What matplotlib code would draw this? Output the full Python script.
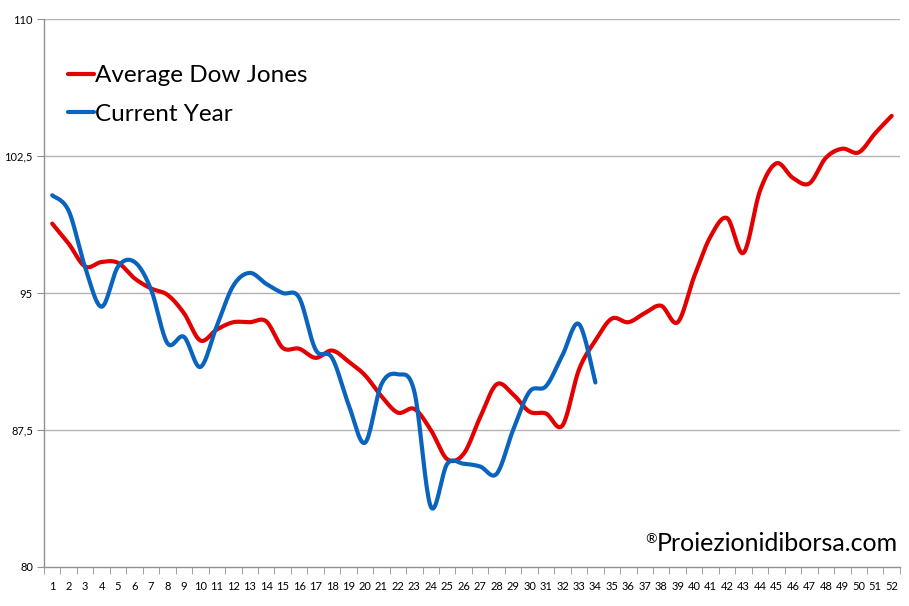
import numpy as np
import matplotlib
matplotlib.use('Agg')
import matplotlib.pyplot as plt

weeks = list(range(1, 53))

# average Dow Jones, weeks 1-52
avg_dow = [98.8, 97.7, 96.45, 96.7, 96.65, 95.8, 95.25, 94.9, 93.9, 92.4,
           93.0, 93.4, 93.4, 93.45, 92.0, 91.95, 91.45, 91.85, 91.25, 90.5,
           89.35, 88.45, 88.65, 87.5, 85.9, 86.2, 88.2, 90.0, 89.45, 88.5,
           88.4, 87.75, 90.8, 92.4, 93.6, 93.4, 93.9, 94.3, 93.4, 95.9,
           98.1, 99.1, 97.2, 100.6, 102.1, 101.3, 101.0, 102.4, 102.9, 102.7,
           103.75, 104.7]

# current year, weeks 1-34
cur_year = [100.35, 99.5, 96.4, 94.25, 96.45, 96.7, 95.2, 92.25, 92.6, 90.95,
            93.2, 95.4, 96.1, 95.5, 95.0, 94.75, 91.9, 91.45, 88.9, 86.8,
            90.0, 90.55, 89.6, 83.3, 85.65, 85.65, 85.5, 85.1, 87.5, 89.6,
            89.9, 91.6, 93.3, 90.1]

y_ticks = [80, 87.5, 95, 102.5, 110]
y_labels = ["80", "87,5", "95", "102,5", "110"]


def smooth(xs, ys, n=20):
    # excel-like smoothed line (bezier through the points)
    xs = np.asarray(xs, float)
    ys = np.asarray(ys, float)
    px = np.concatenate([[xs[0]], xs, [xs[-1]]])
    py = np.concatenate([[ys[0]], ys, [ys[-1]]])
    outx, outy = [], []
    t = np.linspace(0, 1, n, endpoint=False)
    for i in range(1, len(px) - 2):
        p0 = np.array([px[i], py[i]])
        p3 = np.array([px[i + 1], py[i + 1]])
        c1 = p0 + (np.array([px[i + 1], py[i + 1]]) - np.array([px[i - 1], py[i - 1]])) / 6
        c2 = p3 - (np.array([px[i + 2], py[i + 2]]) - np.array([px[i], py[i]])) / 6
        b = ((1 - t) ** 3)[:, None] * p0 + (3 * (1 - t) ** 2 * t)[:, None] * c1 \
            + (3 * (1 - t) * t ** 2)[:, None] * c2 + (t ** 3)[:, None] * p3
        outx.extend(b[:, 0])
        outy.extend(b[:, 1])
    outx.append(xs[-1])
    outy.append(ys[-1])
    return outx, outy


plt.rcParams['font.family'] = ['Lato', 'DejaVu Sans']

fig = plt.figure(figsize=(9.09, 6.06), dpi=100)
ax = fig.add_axes([0.0484, 0.0644, 0.9416, 0.9042])

red = '#e30000'
blue = '#0a64be'

sx, sy = smooth(weeks, avg_dow)
ax.plot(sx, sy, color=red, lw=3.0, solid_capstyle='round', label="Average Dow Jones", zorder=3)
sx, sy = smooth(weeks[:len(cur_year)], cur_year)
ax.plot(sx, sy, color=blue, lw=3.0, solid_capstyle='round', label="Current Year", zorder=4)

ax.set_xlim(0.5, 52.5)
ax.set_ylim(80, 110)
ax.set_yticks(y_ticks)
ax.set_yticklabels(y_labels)
ax.set_xticks(weeks)
ax.set_xticklabels([str(w) for w in weeks])
ax.set_xticks(np.arange(0.5, 53, 1), minor=True)
ax.tick_params(axis='x', which='major', length=0, labelsize=8, pad=10)
ax.tick_params(axis='x', which='minor', length=5, color='#909090', direction='out')
ax.tick_params(axis='y', length=5, color='#909090', labelsize=8, pad=3)

for v in y_ticks[1:]:
    ax.axhline(v, color='#b4b4b4', lw=1.0, zorder=1)

for s in ['top', 'right']:
    ax.spines[s].set_visible(False)
for s in ['left', 'bottom']:
    ax.spines[s].set_color('#909090')
    ax.spines[s].set_linewidth(1.0)

leg = ax.legend(loc='upper left', bbox_to_anchor=(0.017, 0.933), frameon=False,
                fontsize=17.5, handlelength=1.05, handletextpad=0.05, labelspacing=0.72,
                borderaxespad=0)

wm = ax.text(0.998, 0.022, "Proiezionidiborsa.com", transform=ax.transAxes,
             ha='right', va='bottom', fontsize=18, color='black')
ax.annotate("®", xy=(0, 0.93), xycoords=wm, ha='right', va='top', fontsize=10, color='black')

plt.savefig("out.png", dpi=100)
